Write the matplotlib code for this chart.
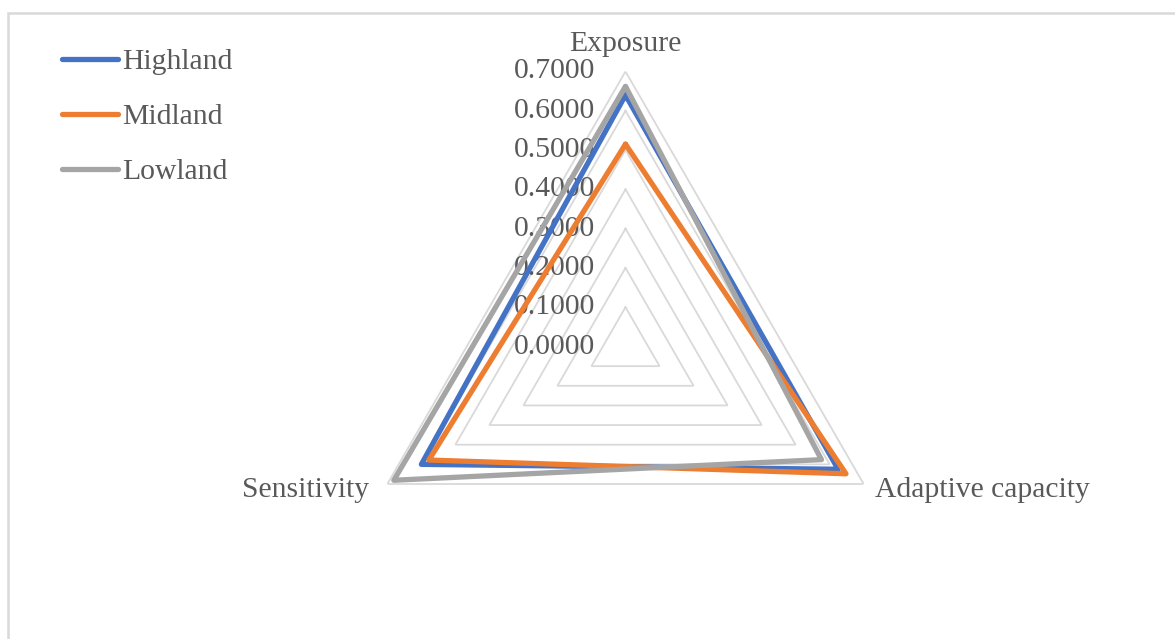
import numpy as np
import matplotlib
matplotlib.use("Agg")
import matplotlib.pyplot as plt
from matplotlib.patches import Rectangle

categories = ["Exposure", "Adaptive capacity", "Sensitivity"]
series_names = ["Highland", "Midland", "Lowland"]
highland = [0.640, 0.625, 0.600]
midland = [0.515, 0.648, 0.578]
lowland = [0.662, 0.576, 0.681]
tick_values = [0.0, 0.1, 0.2, 0.3, 0.4, 0.5, 0.6, 0.7]
tick_labels = ["0.0000", "0.1000", "0.2000", "0.3000", "0.4000", "0.5000", "0.6000", "0.7000"]

colors = ["#4472C4", "#ED7D31", "#A5A5A5"]
text_color = "#595959"
grid_color = "#D9D9D9"
FS = 21.3

plt.rcParams["font.family"] = ["Liberation Serif", "DejaVu Serif"]

W, H = 1175, 639
fig = plt.figure(figsize=(W / 100, H / 100), dpi=100)

# chart border (cropped at right/bottom)
fig.patches.append(Rectangle((7.5 / W, -0.1), 1.2, 1 - 13.5 / H + 0.1,
                             transform=fig.transFigure, fill=False,
                             edgecolor=grid_color, linewidth=1.8))

cx, cy, R = 625.5, 346.5, 275.0
ax = fig.add_axes([(cx - R) / W, (H - cy - R) / H, 2 * R / W, 2 * R / H],
                  projection="polar")
ax.set_theta_offset(np.pi / 2)
ax.set_theta_direction(-1)
ax.set_ylim(0, 0.7)
ax.grid(False)
ax.spines["polar"].set_visible(False)
ax.set_xticks([])
ax.set_yticks([])
ax.patch.set_alpha(0)

n = len(categories)
theta = np.arange(n) * 2 * np.pi / n
theta_closed = np.append(theta, theta[0])

# triangular grid
for v in tick_values[1:]:
    ax.plot(theta_closed, [v] * (n + 1), color=grid_color, lw=1.3, zorder=1,
            solid_joinstyle="miter")

# tick labels
for v, lab in zip(tick_values, tick_labels):
    ax.annotate(lab, xy=(0, v), xytext=(-30, 0), textcoords="offset pixels",
                ha="right", va="center", fontsize=FS, color=text_color, zorder=2)

# series
for name, vals, c in zip(series_names, [highland, midland, lowland], colors):
    ax.plot(theta_closed, list(vals) + [vals[0]], color=c, lw=3.8, label=name,
            solid_joinstyle="round", solid_capstyle="round", zorder=3)

# category labels
ax.annotate(categories[0], xy=(theta[0], 0.7), xytext=(0, 20.5),
            textcoords="offset pixels", ha="center", va="baseline",
            fontsize=FS, color=text_color)
ax.annotate(categories[1], xy=(theta[1], 0.7), xytext=(11.5, -12.7),
            textcoords="offset pixels", ha="left", va="baseline",
            fontsize=FS, color=text_color)
ax.annotate(categories[2], xy=(theta[2], 0.7), xytext=(-18.5, -12.7),
            textcoords="offset pixels", ha="right", va="baseline",
            fontsize=FS, color=text_color)

leg = fig.legend(loc="upper left", bbox_to_anchor=(62 / W, 1 - 48.5 / H),
                 frameon=False, fontsize=FS, handlelength=1.89,
                 handletextpad=0.13, labelspacing=0.96, borderaxespad=0,
                 borderpad=0)
for t in leg.get_texts():
    t.set_color(text_color)
for h in leg.get_lines():
    h.set_solid_capstyle("round")
    h.set_linewidth(3.8)

fig.savefig("out.png", dpi=100)
